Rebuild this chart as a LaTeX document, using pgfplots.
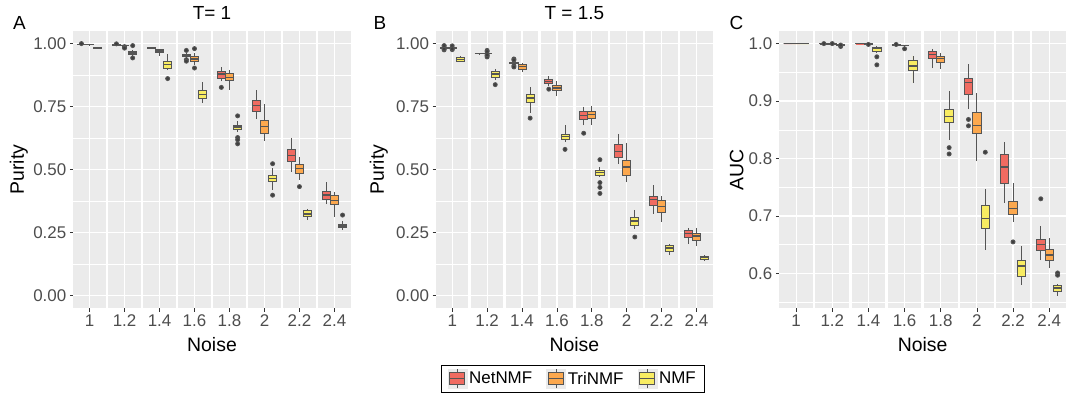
\documentclass[border=0pt]{standalone}
\usepackage{pgfplots}
\pgfplotsset{compat=1.18}
\usepgfplotslibrary{statistics}
\usepackage{fontspec}
\setmainfont{Liberation Sans}
\definecolor{bgg}{HTML}{EBEBEB}
\definecolor{cR}{HTML}{F06B61}
\definecolor{cO}{HTML}{FCA84E}
\definecolor{cY}{HTML}{F8EC62}
\definecolor{boxc}{HTML}{555555}
\definecolor{ptc}{HTML}{3F3F3F}
\definecolor{tickl}{HTML}{4D4D4D}
\definecolor{tickc}{HTML}{333333}
\pgfplotsset{
 bstyle/.style={draw=boxc, line width=0.9bp, solid, mark=*, mark size=2bp,
   mark options={fill=ptc, draw=none, solid},
   boxplot/box extend=0.3, boxplot/whisker extend=0,
   boxplot/every median/.style={line width=1.4bp}},
 fac/.style={
  scale only axis, xmin=0, xmax=10.23,
  axis background/.style={fill=bgg},
  axis line style={draw=none},
  tick align=outside, tick pos=left,
  major tick length=3.5bp, minor tick length=0bp,
  tick style={draw=tickc, line width=0.7bp},
  xtick={0.6,1.89,3.18,4.47,5.76,7.05,8.34,9.63},
  xticklabels={1,1.2,1.4,1.6,1.8,2,2.2,2.4},
  xmajorgrids, ymajorgrids, yminorgrids,
  major grid style={white, line width=1.2bp},
  minor grid style={white, line width=0.6bp},
  ticklabel style={font=\fontsize{17}{18}\selectfont, text=tickl},
  /pgf/number format/assume math mode=true,
  xlabel={Noise},
  xlabel style={font=\fontsize{19.5}{20}\selectfont, at={(axis description cs:0.5,-0.158)}, anchor=base},
  ylabel style={font=\fontsize{19.5}{20}\selectfont, anchor=center},
  title style={font=\fontsize{19}{20}\selectfont, at={(axis description cs:0.5,1.019)}, anchor=base},
  boxplot/draw direction=y,
 },
 pur/.style={ymin=-0.05, ymax=1.05, ytick={0,0.25,0.5,0.75,1}, minor ytick={0.125,0.375,0.625,0.875},
  yticklabel style={/pgf/number format/.cd, fixed, fixed zerofill, precision=2}},
}
\newcommand{\bxp}[8]{\addplot[bstyle, fill=#2, forget plot, boxplot prepared={draw position={#1}, lower whisker=#3, lower quartile=#4, median=#5, upper quartile=#6, upper whisker=#7}] coordinates {#8};}
\newcommand{\bR}[7]{\bxp{1.29*#1+0.3}{cR}{#2}{#3}{#4}{#5}{#6}{#7}}
\newcommand{\bO}[7]{\bxp{1.29*#1+0.6}{cO}{#2}{#3}{#4}{#5}{#6}{#7}}
\newcommand{\bY}[7]{\bxp{1.29*#1+0.9}{cY}{#2}{#3}{#4}{#5}{#6}{#7}}
\newcommand{\gaps}{%
 \fill[white] (axis cs:1.2,-1) rectangle (axis cs:1.29,2);
 \fill[white] (axis cs:2.49,-1) rectangle (axis cs:2.58,2);
 \fill[white] (axis cs:3.78,-1) rectangle (axis cs:3.87,2);
 \fill[white] (axis cs:5.07,-1) rectangle (axis cs:5.16,2);
 \fill[white] (axis cs:6.36,-1) rectangle (axis cs:6.45,2);
 \fill[white] (axis cs:7.65,-1) rectangle (axis cs:7.74,2);
 \fill[white] (axis cs:8.94,-1) rectangle (axis cs:9.03,2);}
\newcommand{\legkey}[1]{%
 \fill[bgg] (0bp,-9.5bp) rectangle (19bp,9.5bp);
 \draw[boxc, line width=0.8bp] (9.5bp,-9.5bp)--(9.5bp,9.5bp);
 \filldraw[fill=#1, draw=boxc, line width=0.8bp] (2bp,-6bp) rectangle (17bp,6bp);
 \draw[boxc, line width=1.2bp] (2bp,0bp)--(17bp,0bp);}
\begin{document}
\begin{tikzpicture}
\useasboundingbox (0bp,0bp) rectangle (1066bp,-394bp);
\node[anchor=base west, inner sep=0pt, font=\fontsize{19}{20}\selectfont] at (13bp,-29.3bp) {A};
\node[anchor=base west, inner sep=0pt, font=\fontsize{19}{20}\selectfont] at (373.3bp,-29.3bp) {B};
\node[anchor=base west, inner sep=0pt, font=\fontsize{19}{20}\selectfont] at (729.3bp,-29.3bp) {C};
% ---------------- Panel A
\begin{axis}[fac, pur, at={(73.3bp,-31bp)}, anchor=north west, width=277.4bp, height=277bp,
  title={T= 1}, ylabel={Purity}, ylabel style={at={(axis description cs:-0.196,0.5)}}]
\gaps
\bR{0}{0.995}{0.996}{0.997}{0.998}{0.999}{(0,1.0)}
\bO{0}{0.995}{0.996}{0.997}{0.998}{0.999}{}
\bY{0}{0.979}{0.981}{0.983}{0.985}{0.988}{}
\bR{1}{0.991}{0.993}{0.994}{0.995}{0.997}{(0,0.999)}
\bO{1}{0.990}{0.992}{0.993}{0.994}{0.996}{(0,0.988)(0,0.985)(0,0.982)}
\bY{1}{0.950}{0.956}{0.963}{0.969}{0.975}{(0,0.992)(0,0.943)}
\bR{2}{0.981}{0.982}{0.983}{0.984}{0.985}{}
\bO{2}{0.952}{0.966}{0.971}{0.976}{0.980}{}
\bY{2}{0.894}{0.903}{0.916}{0.930}{0.960}{(0,0.861)}
\bR{3}{0.940}{0.947}{0.952}{0.956}{0.962}{(0,0.973)(0,0.936)(0,0.930)}
\bO{3}{0.916}{0.928}{0.939}{0.947}{0.963}{(0,0.980)(0,0.903)}
\bY{3}{0.764}{0.784}{0.797}{0.813}{0.846}{}
\bR{4}{0.850}{0.863}{0.880}{0.890}{0.906}{(0,0.826)}
\bO{4}{0.817}{0.853}{0.866}{0.880}{0.896}{}
\bY{4}{0.647}{0.660}{0.668}{0.675}{0.691}{(0,0.713)(0,0.627)(0,0.618)(0,0.602)}
\bR{5}{0.700}{0.730}{0.753}{0.774}{0.814}{}
\bO{5}{0.614}{0.644}{0.671}{0.696}{0.760}{}
\bY{5}{0.418}{0.452}{0.465}{0.478}{0.505}{(0,0.523)(0,0.398)}
\bR{6}{0.491}{0.531}{0.556}{0.580}{0.627}{}
\bO{6}{0.458}{0.485}{0.503}{0.522}{0.551}{(0,0.432)}
\bY{6}{0.299}{0.312}{0.324}{0.336}{0.345}{}
\bR{7}{0.363}{0.381}{0.398}{0.414}{0.449}{}
\bO{7}{0.312}{0.363}{0.378}{0.396}{0.412}{}
\bY{7}{0.259}{0.268}{0.276}{0.282}{0.296}{(0,0.319)}
\end{axis}
% ---------------- Panel B
\begin{axis}[fac, pur, at={(436bp,-31bp)}, anchor=north west, width=276.7bp, height=277bp,
  title={T = 1.5}, ylabel={Purity}, ylabel style={at={(axis description cs:-0.207,0.5)}},
  legend style={at={(axis description cs:0.494,-0.2556)}, anchor=center, draw=black, line width=0.6bp,
    font=\fontsize{17}{18}\selectfont, legend columns=3, inner xsep=6bp, inner ysep=4bp,
    /tikz/every even column/.append style={column sep=12bp}},
  legend cell align=left]
\gaps
\bR{0}{0.980}{0.982}{0.984}{0.986}{0.988}{(0,0.990)(0,0.975)(0,0.978)(0,0.992)}
\bO{0}{0.980}{0.982}{0.984}{0.986}{0.988}{(0,0.991)(0,0.976)(0,0.979)}
\bY{0}{0.928}{0.931}{0.937}{0.943}{0.952}{}
\bR{1}{0.958}{0.959}{0.960}{0.961}{0.962}{}
\bO{1}{0.957}{0.959}{0.960}{0.961}{0.963}{(0,0.973)(0,0.968)(0,0.952)(0,0.947)(0,0.955)}
\bY{1}{0.854}{0.867}{0.879}{0.890}{0.900}{(0,0.837)}
\bR{2}{0.918}{0.920}{0.923}{0.926}{0.929}{(0,0.939)(0,0.935)(0,0.912)(0,0.907)}
\bO{2}{0.886}{0.899}{0.910}{0.919}{0.923}{}
\bY{2}{0.726}{0.766}{0.784}{0.800}{0.826}{(0,0.704)}
\bR{3}{0.830}{0.841}{0.850}{0.859}{0.870}{(0,0.819)}
\bO{3}{0.790}{0.813}{0.823}{0.833}{0.850}{}
\bY{3}{0.611}{0.620}{0.631}{0.641}{0.677}{(0,0.580)}
\bR{4}{0.675}{0.697}{0.714}{0.730}{0.750}{(0,0.644)}
\bO{4}{0.677}{0.704}{0.718}{0.730}{0.754}{}
\bY{4}{0.469}{0.478}{0.489}{0.498}{0.509}{(0,0.539)(0,0.448)(0,0.429)(0,0.405)}
\bR{5}{0.522}{0.548}{0.571}{0.600}{0.641}{}
\bO{5}{0.449}{0.478}{0.510}{0.534}{0.607}{}
\bY{5}{0.263}{0.279}{0.295}{0.309}{0.341}{(0,0.232)}
\bR{6}{0.325}{0.359}{0.382}{0.392}{0.437}{}
\bO{6}{0.292}{0.328}{0.352}{0.376}{0.394}{}
\bY{6}{0.159}{0.175}{0.189}{0.199}{0.206}{}
\bR{7}{0.206}{0.230}{0.246}{0.259}{0.268}{}
\bO{7}{0.195}{0.219}{0.236}{0.248}{0.268}{}
\bY{7}{0.135}{0.143}{0.150}{0.155}{0.159}{}
\addlegendimage{legend image code/.code={\legkey{cR}}}
\addlegendentry{NetNMF}
\addlegendimage{legend image code/.code={\legkey{cO}}}
\addlegendentry{TriNMF}
\addlegendimage{legend image code/.code={\legkey{cY}}}
\addlegendentry{NMF}
\end{axis}
% ---------------- Panel C
\begin{axis}[fac, at={(779.3bp,-31bp)}, anchor=north west, width=286.7bp, height=277bp,
  ymin=0.540, ymax=1.0219, ytick={0.6,0.7,0.8,0.9,1.0}, minor ytick={0.55,0.65,0.75,0.85,0.95},
  yticklabel style={/pgf/number format/.cd, fixed, fixed zerofill, precision=1},
  ylabel={AUC}, ylabel style={at={(axis description cs:-0.149,0.5)}}]
\gaps
\bR{0}{1.0}{1.0}{1.0}{1.0}{1.0}{}
\bO{0}{1.0}{1.0}{1.0}{1.0}{1.0}{}
\bY{0}{1.0}{1.0}{1.0}{1.0}{1.0}{}
\bR{1}{0.9993}{0.9994}{0.9995}{0.9996}{0.9997}{(0,1.0)}
\bO{1}{0.9993}{0.9994}{0.9995}{0.9996}{0.9997}{(0,1.0)}
\bY{1}{0.996}{0.997}{0.998}{0.9985}{0.999}{(0,0.995)(0,0.9975)}
\bR{2}{0.9995}{0.9996}{0.9997}{0.9998}{1.0}{}
\bO{2}{0.999}{0.9993}{0.9995}{0.9997}{1.0}{(0,0.9985)}
\bY{2}{0.984}{0.987}{0.991}{0.994}{0.9965}{(0,0.977)(0,0.963)}
\bR{3}{0.9965}{0.997}{0.9973}{0.9977}{0.998}{(0,0.9985)}
\bO{3}{0.995}{0.996}{0.997}{0.9975}{0.998}{(0,0.991)}
\bY{3}{0.932}{0.953}{0.961}{0.970}{0.979}{}
\bR{4}{0.957}{0.974}{0.981}{0.987}{0.991}{}
\bO{4}{0.956}{0.968}{0.974}{0.978}{0.984}{}
\bY{4}{0.832}{0.863}{0.873}{0.886}{0.918}{(0,0.819)(0,0.808)}
\bR{5}{0.886}{0.912}{0.932}{0.940}{0.964}{(0,0.868)(0,0.857)}
\bO{5}{0.795}{0.843}{0.857}{0.881}{0.914}{}
\bY{5}{0.641}{0.678}{0.696}{0.718}{0.747}{(0,0.811)}
\bR{6}{0.723}{0.757}{0.785}{0.808}{0.828}{}
\bO{6}{0.690}{0.702}{0.713}{0.726}{0.757}{(0,0.655)}
\bY{6}{0.580}{0.595}{0.613}{0.623}{0.648}{}
\bR{7}{0.623}{0.640}{0.650}{0.660}{0.683}{(0,0.730)}
\bO{7}{0.609}{0.623}{0.632}{0.641}{0.661}{}
\bY{7}{0.561}{0.569}{0.575}{0.580}{0.582}{(0,0.601)(0,0.597)}
\end{axis}
\end{tikzpicture}
\end{document}
